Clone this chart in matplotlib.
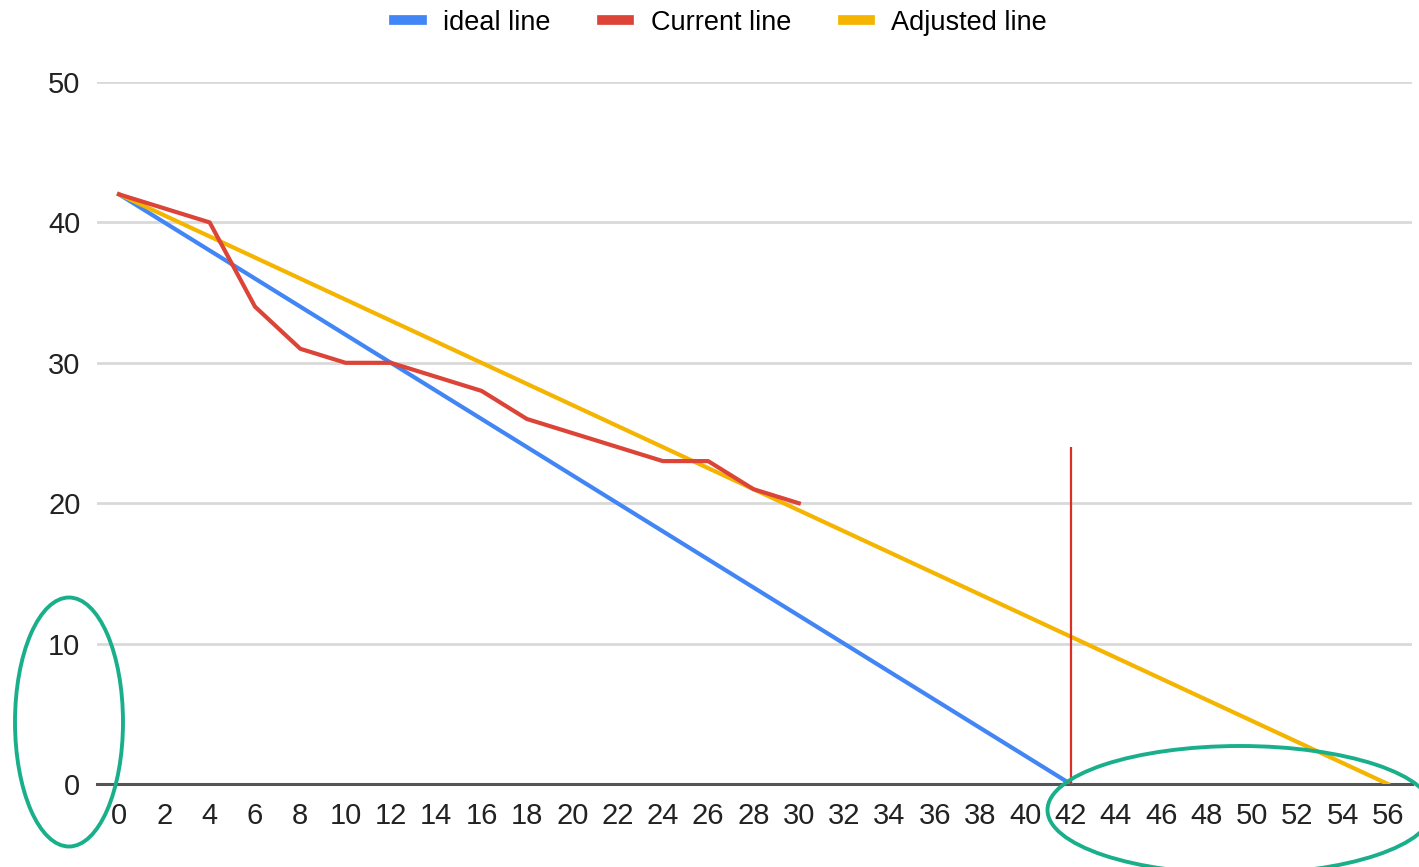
import matplotlib.pyplot as plt
from matplotlib.patches import Ellipse
from matplotlib.lines import Line2D

plt.rcParams['font.family'] = ['Liberation Sans', 'DejaVu Sans']

# data
ideal_x = [0, 42]
ideal_y = [42, 0]
current_x = [0, 4, 6, 8, 10, 12, 14, 16, 18, 20, 22, 24, 26, 28, 30]
current_y = [42, 40, 34, 31, 30, 30, 29, 28, 26, 25, 24, 23, 23, 21, 20]
adjusted_x = [0, 56]
adjusted_y = [42, 0]
deadline_x = 42
deadline_top = 24
x_ticks = list(range(0, 57, 2))
y_ticks = [0, 10, 20, 30, 40, 50]

blue = '#4285F4'
red = '#DB4437'
yellow = '#F4B400'
teal = '#1AAF8B'

fig = plt.figure(figsize=(14.19, 8.67), dpi=100)
ax = fig.add_axes([0.0684, 0.0957, 0.9266, 0.8097])

ax.set_xlim(-0.97, 57.06)
ax.set_ylim(0, 50)

# grid lines
for y in y_ticks[1:]:
    ax.axhline(y, color='#d9d9d9', linewidth=2, zorder=0)
ax.axhline(0, color='#555555', linewidth=2.2, zorder=1, clip_on=False)

ax.plot(ideal_x, ideal_y, color=blue, linewidth=3, zorder=3)
ax.plot(adjusted_x, adjusted_y, color=yellow, linewidth=3, zorder=3)
ax.plot(current_x, current_y, color=red, linewidth=3, zorder=4)
ax.vlines(deadline_x, 0, deadline_top, color='#d93025', linewidth=1.6, zorder=5)

for s in ax.spines.values():
    s.set_visible(False)
ax.set_xticks(x_ticks)
ax.set_yticks(y_ticks)
ax.tick_params(length=0, labelsize=21, colors='#222222')
ax.tick_params(axis='y', pad=12)
ax.tick_params(axis='x', pad=13)

handles = [Line2D([0], [0], color=c, linewidth=7) for c in (blue, red, yellow)]
fig.legend(handles, ['ideal line', 'Current line', 'Adjusted line'],
           loc='center', bbox_to_anchor=(0.508, 0.974), ncol=3, frameon=False,
           fontsize=19.5, handlelength=1.0, handletextpad=0.8, columnspacing=1.9)

# green annotation ellipses (figure pixel coordinates)
H = 867
fig.patches.append(Ellipse((69, H - 722), 108, 249, fill=False, edgecolor=teal,
                           linewidth=2.8, transform=None, figure=fig))
fig.patches.append(Ellipse((1240, H - 810), 385, 128, fill=False, edgecolor=teal,
                           linewidth=2.8, transform=None, figure=fig))

fig.savefig('out.png', dpi=100)
